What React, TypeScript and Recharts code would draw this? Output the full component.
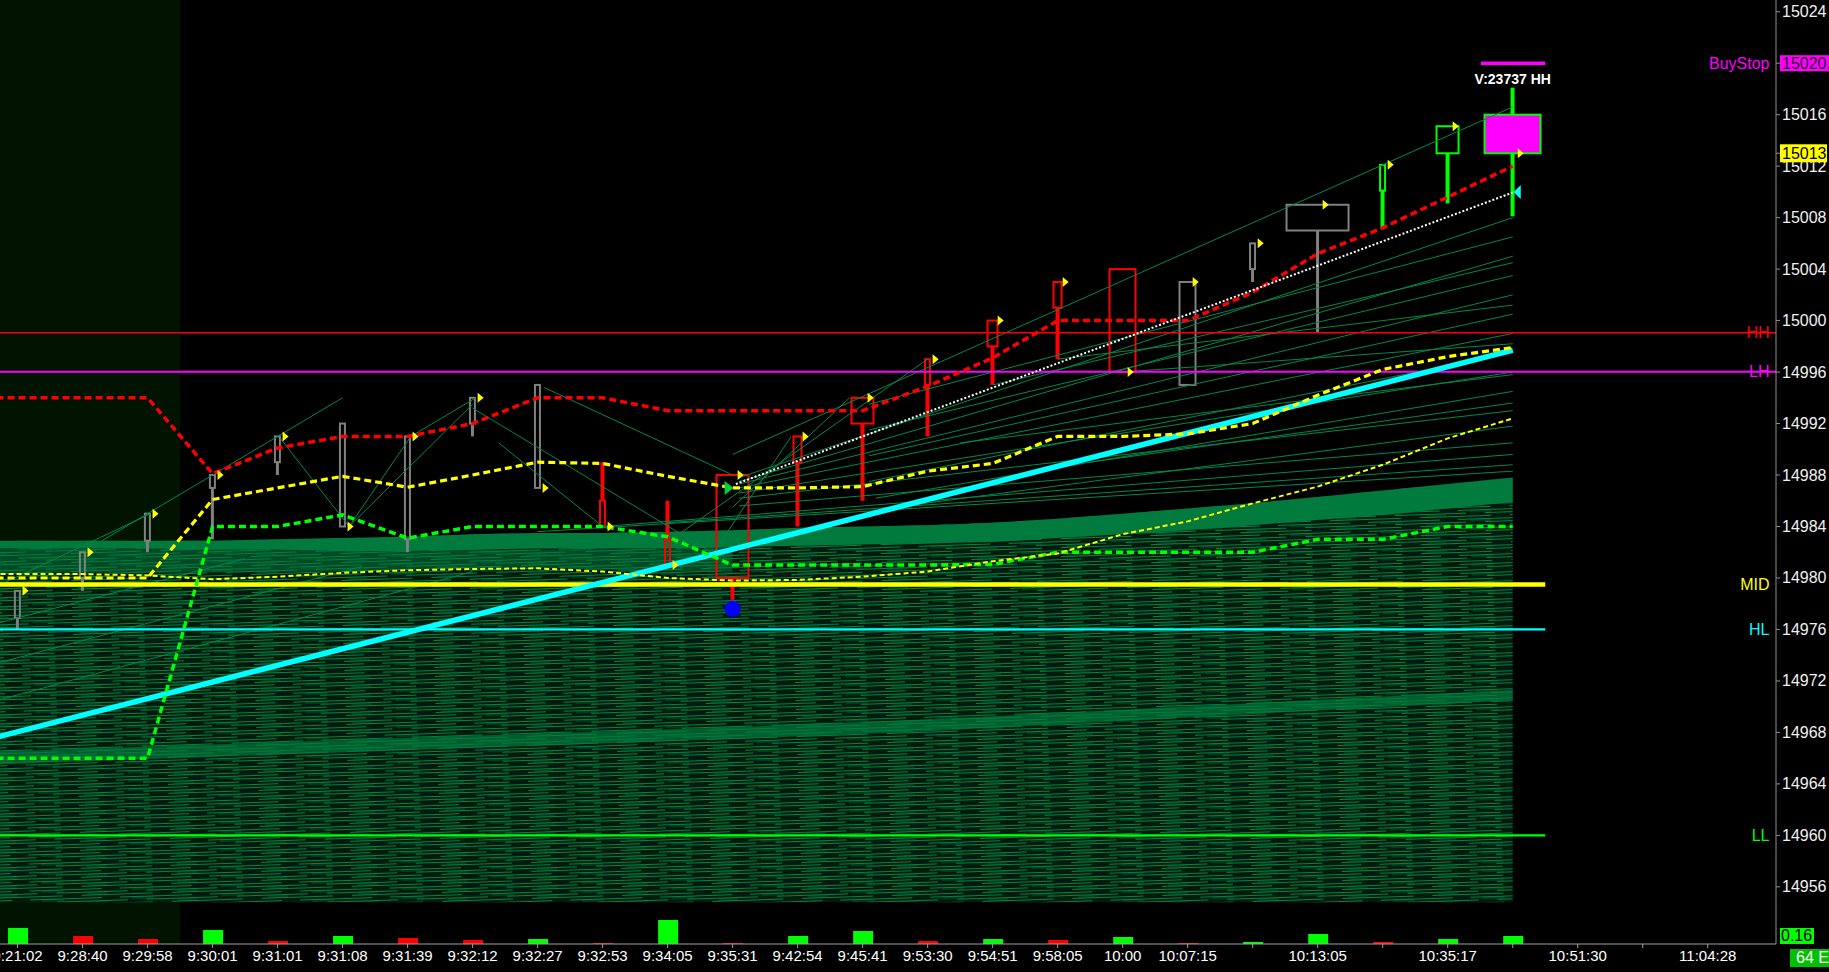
import React from 'react';
import {
  ComposedChart, XAxis, YAxis, Line, Bar, Area, Scatter,
  ReferenceLine, ReferenceArea, Cell,
} from 'recharts';

const FONT = 'Liberation Sans, Arial, sans-serif';

// ---------- categories ----------
const slotIds = [-1, 0, 1, 2, 3, 4, 5, 6, 7, 8, 9, 10, 11, 12, 13, 14, 15, 16, 17, 18, 19, 20, 21, 22, 23];
const tickSlots = [0, 1, 2, 3, 4, 5, 6, 7, 8, 9, 10, 11, 12, 13, 14, 15, 16, 17, 18, 19, 20, 21, 22, 23, 24, 25, 26];
const timeLabels = ['9:21:02', '9:28:40', '9:29:58', '9:30:01', '9:31:01', '9:31:08', '9:31:39', '9:32:12', '9:32:27',
  '9:32:53', '9:34:05', '9:35:31', '9:42:54', '9:45:41', '9:53:30', '9:54:51', '9:58:05', '10:00', '10:07:15', '',
  '10:13:05', '', '10:35:17', '', '10:51:30', '', '11:04:28'];
const priceTicks = [14956, 14960, 14964, 14968, 14972, 14976, 14980, 14984, 14988, 14992, 14996, 15000, 15004, 15008, 15012, 15016, 15020, 15024, 15013];

// ---------- candles (slots 0..23) ----------
const cOpen = [14976.9, 14980.0, 14982.9, 14987.0, 14989.0, 14992.0, 14983.0, 14992.0, 14995.0, 14986.0, 14983.0, 14980.0,
  14989.0, 14992.0, 14995.0, 14998.0, 15001.0, 15004.0, 14995.0, 15004.0, 15007.0, 15010.1, 15013.0, 15016.0];
const cHigh = [14979.0, 14982.0, 14985.0, 14988.0, 14991.0, 14992.0, 14991.0, 14994.0, 14995.0, 14989.0, 14986.0, 14988.0,
  14991.0, 14994.0, 14997.0, 15000.0, 15003.0, 15004.0, 15003.0, 15006.0, 15009.0, 15012.1, 15015.1, 15018.1];
const cLow = [14976.0, 14979.0, 14982.0, 14983.0, 14988.0, 14984.0, 14982.0, 14991.0, 14987.0, 14984.0, 14981.0, 14978.3,
  14984.0, 14986.0, 14991.0, 14995.0, 14997.0, 14996.0, 14995.0, 15003.0, 14999.1, 15007.1, 15009.1, 15008.1];
const cClose = [14979.0, 14982.0, 14985.0, 14988.0, 14991.0, 14984.0, 14991.0, 14994.0, 14987.0, 14984.0, 14981.0, 14988.0,
  14991.0, 14994.0, 14997.0, 15000.0, 15003.0, 14996.0, 15003.0, 15006.0, 15009.0, 15012.1, 15015.1, 15013.0];
const volume = [47500, 23700, 14800, 41500, 8900, 23700, 17800, 11900, 14800, 3000, 71200, 3000,
  23700, 38600, 8900, 14800, 11900, 20800, 3000, 5900, 29700, 5900, 14800, 23737];

// ---------- indicator lines (slots -1..23) ----------
const redLine = [14994.0, 14994.0, 14994.0, 14994.0, 14988.1, 14990.1, 14991.0, 14991.0, 14992.0, 14994.0, 14994.0, 14993.0,
  14993.0, 14993.0, 14993.0, 14994.9, 14997.1, 15000.0, 15000.0, 15000.0, 15002.2, 15005.2, 15007.2, 15009.6, 15012.0];
const yellowThick = [14980.0, 14980.0, 14980.0, 14980.0, 14986.1, 14987.0, 14987.9, 14987.05, 14988.0, 14989.0, 14988.9, 14987.9,
  14987.0, 14987.0, 14987.1, 14988.3, 14988.9, 14991.0, 14991.0, 14991.2, 14992.0, 14994.2, 14996.2, 14997.2, 14997.9];
const yellowThin = [14980.3, 14980.3, 14980.3, 14980.2, 14979.9, 14980.1, 14980.4, 14980.6, 14980.7, 14980.75, 14980.5, 14980.0,
  14979.8, 14979.85, 14980.1, 14980.5, 14981.3, 14981.9, 14983.4, 14984.4, 14985.8, 14987.1, 14988.8, 14990.85, 14992.4];
const greenLine = [14966.0, 14966.0, 14966.0, 14966.0, 14984.0, 14984.0, 14984.9, 14983.1, 14984.0, 14984.0, 14984.0, 14983.2,
  14981.0, 14981.0, 14981.0, 14981.0, 14981.06, 14982.0, 14982.0, 14982.0, 14982.0, 14983.0, 14983.0, 14984.0, 14984.0];
const denseTop = [14982.9, 14982.9, 14982.9, 14982.9, 14982.9, 14983.0, 14983.1, 14983.2, 14983.4, 14983.5, 14983.5, 14983.6,
  14983.7, 14983.9, 14984.0, 14984.1, 14984.3, 14984.6, 14985.0, 14985.4, 14985.8, 14986.3, 14986.8, 14987.3, 14987.8];
const bandBottom = [14982.3, 14982.3, 14982.3, 14982.3, 14982.2, 14982.2, 14982.1, 14982.1, 14982.2, 14982.3, 14982.3, 14982.3,
  14982.4, 14982.5, 14982.6, 14982.7, 14982.8, 14983.1, 14983.4, 14983.7, 14984.1, 14984.5, 14984.9, 14985.4, 14985.9];
const midDenseSlots = [-1, 2, 5, 8, 11];
const midDenseLo = [14980.4, 14980.4, 14980.5, 14980.8, 14980.4];
const midDenseHi = [14982.3, 14982.3, 14982.1, 14982.2, 14982.3];
const lowerBandSlots = [-1, 11, 14, 23];
const lowerBandLo = [14965.4, 14967.5, 14968.1, 14970.5];
const lowerBandHi = [14966.4, 14968.4, 14969.0, 14971.3];
const hatchBottom = 14954.8;

const cyanLine = [{ x: -1, v: 14966.76 }, { x: 23, v: 14997.7 }];
const whiteDotted = [{ x: 11.05, v: 14987.3 }, { x: 23, v: 15009.95 }];

// thin green fan / network lines: lists of [slot, value]
const fanLines: number[][][] = [
  [[11, 14989.6], [23, 15016.6]],
  [[11.1, 14987.8], [23, 15008.0]],
  [[11.1, 14987.5], [23, 15005.0]],
  [[11.1, 14987.3], [23, 15002.0]],
  [[11.1, 14987.0], [23, 14999.0]],
  [[11.1, 14986.6], [23, 14996.0]],
  [[11.1, 14986.2], [23, 14993.0]],
  [[11.1, 14985.6], [23, 14990.5]],
  [[13.1, 14993.5], [23, 15006.5]],
  [[13.1, 14991.5], [23, 15003.5]],
  [[13.1, 14989.5], [23, 15000.5]],
  [[13.1, 14987.5], [23, 14997.5]],
  [[13.2, 14986.2], [23, 14994.5]],
  [[13.5, 14985.5], [23, 14991.8]],
  [[9.0, 14984.0], [23, 14989.6]],
  [[10.0, 14984.3], [23, 14988.8]],
  [[8.0, 14983.6], [23, 14988.3]],
  [[15.0, 14995.0], [23, 15004.5]],
  [[16.0, 14997.0], [23, 15001.2]],
  [[17.0, 14996.0], [23, 14998.2]],
  [[14.5, 14990.5], [23, 14995.8]],
  [[16.5, 14989.0], [23, 14993.6]],
  [[1.3, 14982.9], [5.0, 14994.0]],
  [[-0.3, 14979.4], [2.05, 14985.0]],
  [[4.05, 14990.8], [5.1, 14984.0], [6.05, 14991.0], [7.05, 14994.0]],
  [[7.0, 14993.2], [10.7, 14981.9], [11.9, 14991.0]],
  [[7.4, 14990.5], [9.0, 14984.0]],
  [[11.0, 14985.5], [12.8, 14994.0]],
  [[5.1, 14984.0], [7.0, 14993.5]],
  [[10.2, 14983.5], [14.0, 14997.0]],
  [[8.1, 14994.8], [11.0, 14988.0]],
  [[-0.3, 14973.4], [5.3, 14980.9]],
  [[-0.3, 14970.5], [7.0, 14980.5]],
  [[-0.3, 14976.5], [3.5, 14981.5]],
];

// ---------- levels ----------
const levelNames = ['HH', 'LH', 'MID', 'HL', 'LL'];
const levelValues = [14999.06, 14996.03, 14979.5, 14976.0, 14960.0];
const buyStop = 15020.0;
const lastPrice = 15013.0;
const markerBlueDot = [{ x: 11, y: 14977.6 }];
const markerGreenTri = [{ x: 11, y: 14987.0 }];
const markerCyanTri = [{ x: 23, y: 15010.0 }];
const barNote = [{ x: 23, y: 15018.8, text: 'V:23737 HH' }];

// ---------- styles ----------
const levelColors = ['#ff0000', '#ff00ff', '#ffff00', '#00ffff', '#00ff00'];
const levelWidths = [1.6, 2, 4.5, 2.2, 2.2];
const levelFullWidth = [true, true, false, false, false];
const GRAY = '#808080', RED = '#ff0000', GRN = '#00ff00';
const candleColor = [GRAY, GRAY, GRAY, GRAY, GRAY, GRAY, GRAY, GRAY, GRAY, RED, RED, RED, RED, RED, RED, RED, RED, RED,
  GRAY, GRAY, GRAY, GRN, GRN, GRN];
const bodyFill = ['none', 'none', 'none', 'none', 'none', 'none', 'none', 'none', 'none', 'none', 'none', 'none', 'none',
  'none', 'none', 'none', 'none', 'none', 'none', 'none', 'none', 'none', 'none', '#ff00ff'];
const bodyWidthPx = [7, 7, 7, 7, 7, 7, 7, 7, 7, 7, 7, 34, 10, 24, 7, 12, 10, 28, 18, 7, 64, 7, 24, 58];
const volColor = [GRN, RED, RED, GRN, RED, GRN, RED, RED, GRN, RED, GRN, RED, GRN, GRN, RED, GRN, RED, GRN, RED, GRN, GRN, RED, GRN, GRN];

const X_DOMAIN: [number, number] = [-0.27, 27.05];
const P_DOMAIN: [number, number] = [14951.56, 15024.91];
const V_DOMAIN: [number, number] = [0, 2800533];
const LABEL_SLOT = 26.95;

const rows = slotIds.map((s, k) => {
  const has = s >= 0;
  const lbIdx = lowerBandSlots.indexOf(s);
  const mdIdx = midDenseSlots.indexOf(s);
  return {
    x: s,
    open: has ? cOpen[s] : null,
    high: has ? cHigh[s] : null,
    low: has ? cLow[s] : null,
    close: has ? cClose[s] : null,
    vol: has ? volume[s] : null,
    red: redLine[k],
    yThick: yellowThick[k],
    yThin: yellowThin[k],
    green: greenLine[k],
    dTop: denseTop[k],
    bBot: bandBottom[k],
    lbLo: lbIdx >= 0 ? lowerBandLo[lbIdx] : null,
    lbHi: lbIdx >= 0 ? lowerBandHi[lbIdx] : null,
    mdLo: mdIdx >= 0 ? midDenseLo[mdIdx] : null,
    mdHi: mdIdx >= 0 ? midDenseHi[mdIdx] : null,
  };
});
const candleRows = rows.filter((r) => r.high != null);
const closePoints = candleRows.map((r) => ({ x: r.x, y: r.close }));
const levelLabelPoints = levelNames.map((n, i) => ({ x: LABEL_SLOT, y: levelValues[i], text: n, color: levelColors[i] }));
const buyStopLabel = [{ x: LABEL_SLOT, y: buyStop, text: 'BuyStop', color: '#ff00ff' }];

function CandleShape(props: any) {
  const { x, y, width, height, payload } = props;
  if (!payload || payload.high == null || !isFinite(y) || !isFinite(height)) return <g />;
  const i = payload.x;
  const yHi = Math.min(y, y + height);
  const yLo = Math.max(y, y + height);
  const cx = x + width / 2;
  const k = (yLo - yHi) / (payload.high - payload.low);
  const yOf = (v: number) => yHi + (payload.high - v) * k;
  const bTop = yOf(Math.max(payload.open, payload.close));
  const bBot = yOf(Math.min(payload.open, payload.close));
  const color = candleColor[i];
  const ww = color === GRAY ? 3 : 4;
  const bw = bodyWidthPx[i];
  return (
    <g>
      {bTop - yHi > 0.5 && <line x1={cx} x2={cx} y1={yHi} y2={bTop} stroke={color} strokeWidth={ww} />}
      {yLo - bBot > 0.5 && <line x1={cx} x2={cx} y1={bBot} y2={yLo} stroke={color} strokeWidth={ww} />}
      <rect x={cx - bw / 2 + 1} y={bTop} width={bw - 2} height={Math.max(bBot - bTop, 1)} fill={bodyFill[i]}
        stroke={color} strokeWidth={2} />
    </g>
  );
}

const YellowTri = (p: any) => {
  const { cx, cy } = p;
  if (!isFinite(cx) || !isFinite(cy)) return <g />;
  return <polygon points={`${cx + 5},${cy - 5} ${cx + 11},${cy} ${cx + 5},${cy + 5}`} fill="#ffff00" />;
};
const GreenTri = (p: any) => {
  const { cx, cy } = p;
  return <polygon points={`${cx - 8},${cy - 7} ${cx + 1},${cy} ${cx - 8},${cy + 7}`} fill="#00d040" />;
};
const CyanTri = (p: any) => {
  const { cx, cy } = p;
  return <polygon points={`${cx + 8},${cy - 7} ${cx + 1},${cy} ${cx + 8},${cy + 7}`} fill="#00ffff" />;
};
const BlueDot = (p: any) => <circle cx={p.cx} cy={p.cy} r={8} fill="#0000ff" />;
const RightLabel = (p: any) => (
  <text x={p.cx} y={p.cy} textAnchor="end" dominantBaseline="central" fill={p.payload.color}
    fontSize={16} fontFamily={FONT}>{p.payload.text}</text>
);
const NoteLabel = (p: any) => (
  <text x={p.cx} y={p.cy} textAnchor="middle" dominantBaseline="central" fill="#ffffff"
    fontSize={14} fontWeight="bold" fontFamily={FONT}>{p.payload.text}</text>
);

const PriceTick = (p: any) => {
  const { x, y, payload } = p;
  const v = payload.value;
  if (v === lastPrice) {
    return (
      <g>
        <rect x={x - 2} y={y - 9} width={47} height={18} fill="#ffff00" />
        <text x={x} y={y} dominantBaseline="central" fill="#000000" fontSize={16} fontFamily={FONT}>{String(v)}</text>
      </g>
    );
  }
  if (v === buyStop) {
    return (
      <g>
        <rect x={x - 2} y={y - 8} width={60} height={16} fill="#ff00ff" />
        <text x={x} y={y} dominantBaseline="central" fill="#1a001a" fontSize={16} fontFamily={FONT}>{`${v}.00`}</text>
      </g>
    );
  }
  return (
    <text x={x} y={y} dominantBaseline="central" fill="#f0f0f0" fontSize={16} fontFamily={FONT}>{String(v)}</text>
  );
};

export default function App() {
  return (
    <div style={{ position: 'absolute', left: 0, top: 0, width: 1829, height: 972, background: '#000', overflow: 'hidden' }}>
      <ComposedChart width={1829} height={972} data={rows} margin={{ top: 0, right: 0, bottom: 0, left: 0 }}
        style={{ background: '#000' }}>
        <defs>
          <pattern id="hatch" patternUnits="userSpaceOnUse" width="90" height="9" patternTransform="rotate(-1.9)">
            <rect x="0" y="0" width="90" height="9" fill="#001a0d" />
            <rect x="0" y="0" width="72" height="1" fill="#008542" />
            <rect x="27" y="3" width="63" height="1" fill="#008542" />
            <rect x="0" y="3" width="8" height="1" fill="#008542" />
            <rect x="52" y="6" width="38" height="1" fill="#008542" />
            <rect x="0" y="6" width="33" height="1" fill="#008542" />
            <rect x="12" y="1.5" width="22" height="1" fill="#005a2d" />
            <rect x="58" y="4.5" width="20" height="1" fill="#005a2d" />
          </pattern>
        </defs>
        <XAxis xAxisId="x" dataKey="x" type="number" domain={X_DOMAIN} allowDataOverflow ticks={tickSlots} interval={0}
          tickFormatter={(v: number) => timeLabels[v] ?? ''} height={28} tickSize={4}
          tick={{ fill: '#ffffff', fontSize: 15, fontFamily: FONT }}
          axisLine={{ stroke: '#a0a0a0' }} tickLine={{ stroke: '#a0a0a0' }} />
        <XAxis xAxisId="x2" dataKey="x" type="number" domain={X_DOMAIN} allowDataOverflow hide />
        <YAxis yAxisId="p" orientation="right" domain={P_DOMAIN} allowDataOverflow ticks={priceTicks} interval={0}
          width={53} tickSize={4} tick={<PriceTick />} axisLine={{ stroke: '#909090' }} tickLine={{ stroke: '#909090' }} />
        <YAxis yAxisId="v" domain={V_DOMAIN} allowDataOverflow hide />

        <ReferenceArea xAxisId="x" yAxisId="p" x1={-0.27} x2={2.5} y1={P_DOMAIN[0]} y2={P_DOMAIN[1]}
          fill="#011301" fillOpacity={1} stroke="none" />

        <Area xAxisId="x" yAxisId="p" type="linear" dataKey={(d: any) => [hatchBottom, d.dTop]}
          fill="url(#hatch)" fillOpacity={1} stroke="none" dot={false} activeDot={false} isAnimationActive={false} />
        <Area xAxisId="x" yAxisId="p" type="linear" connectNulls
          dataKey={(d: any) => (d.mdLo == null ? null : [d.mdLo, d.mdHi])}
          fill="#007a3d" fillOpacity={0.5} stroke="none" dot={false} activeDot={false} isAnimationActive={false} />
        <Area xAxisId="x" yAxisId="p" type="linear" dataKey={(d: any) => [d.bBot, d.dTop]}
          fill="#007a3d" fillOpacity={1} stroke="none" dot={false} activeDot={false} isAnimationActive={false} />
        <Area xAxisId="x" yAxisId="p" type="linear" connectNulls
          dataKey={(d: any) => (d.lbLo == null ? null : [d.lbLo, d.lbHi])}
          fill="#007a3d" fillOpacity={0.7} stroke="none" dot={false} activeDot={false} isAnimationActive={false} />

        {fanLines.map((pts, i) => (
          <Line key={`fan${i}`} xAxisId="x" yAxisId="p" data={pts.map(([x, v]) => ({ x, v }))} dataKey="v"
            stroke="#00894a" strokeWidth={1} dot={false} activeDot={false} isAnimationActive={false} />
        ))}

        {levelValues.map((v, i) => (levelFullWidth[i]
          ? <ReferenceLine key={`lvl${i}`} xAxisId="x" yAxisId="p" y={v} stroke={levelColors[i]} strokeWidth={levelWidths[i]} />
          : <ReferenceLine key={`lvl${i}`} xAxisId="x" yAxisId="p" segment={[{ x: -0.27, y: v }, { x: 23.5, y: v }]}
              stroke={levelColors[i]} strokeWidth={levelWidths[i]} />))}
        <ReferenceLine xAxisId="x" yAxisId="p" segment={[{ x: 22.51, y: buyStop }, { x: 23.5, y: buyStop }]}
          stroke="#ff00ff" strokeWidth={3.5} />

        <Bar xAxisId="x" yAxisId="p" dataKey={(d: any) => (d.high == null ? null : [d.low, d.high])} barSize={20}
          shape={<CandleShape />} isAnimationActive={false} />

        <Line xAxisId="x" yAxisId="p" data={cyanLine} dataKey="v" stroke="#00ffff" strokeWidth={5.5}
          dot={false} activeDot={false} isAnimationActive={false} />
        <Line xAxisId="x" yAxisId="p" dataKey="green" stroke="#00ff00" strokeWidth={3.5} strokeDasharray="7 4"
          dot={false} activeDot={false} isAnimationActive={false} />
        <Line xAxisId="x" yAxisId="p" dataKey="yThin" stroke="#ffff00" strokeWidth={2} strokeDasharray="5 3"
          dot={false} activeDot={false} isAnimationActive={false} />
        <Line xAxisId="x" yAxisId="p" dataKey="yThick" stroke="#ffff00" strokeWidth={3.2} strokeDasharray="7 4"
          dot={false} activeDot={false} isAnimationActive={false} />
        <Line xAxisId="x" yAxisId="p" dataKey="red" stroke="#ff0000" strokeWidth={3.5} strokeDasharray="7 4"
          dot={false} activeDot={false} isAnimationActive={false} />
        <Line xAxisId="x" yAxisId="p" data={whiteDotted} dataKey="v" stroke="#ffffff" strokeWidth={2} strokeDasharray="2 2"
          dot={false} activeDot={false} isAnimationActive={false} />

        <Scatter xAxisId="x" yAxisId="p" data={closePoints} dataKey="y" shape={<YellowTri />} isAnimationActive={false} />
        <Scatter xAxisId="x" yAxisId="p" data={markerGreenTri} dataKey="y" shape={<GreenTri />} isAnimationActive={false} />
        <Scatter xAxisId="x" yAxisId="p" data={markerCyanTri} dataKey="y" shape={<CyanTri />} isAnimationActive={false} />
        <Scatter xAxisId="x" yAxisId="p" data={markerBlueDot} dataKey="y" shape={<BlueDot />} isAnimationActive={false} />
        <Scatter xAxisId="x" yAxisId="p" data={levelLabelPoints} dataKey="y" shape={<RightLabel />} isAnimationActive={false} />
        <Scatter xAxisId="x" yAxisId="p" data={buyStopLabel} dataKey="y" shape={<RightLabel />} isAnimationActive={false} />
        <Scatter xAxisId="x" yAxisId="p" data={barNote} dataKey="y" shape={<NoteLabel />} isAnimationActive={false} />

        <Bar xAxisId="x2" yAxisId="v" dataKey="vol" barSize={20} isAnimationActive={false}>
          {rows.map((r, i) => (
            <Cell key={`vc${i}`} fill={r.vol == null ? 'transparent' : volColor[r.x]} />
          ))}
        </Bar>
      </ComposedChart>
      <div style={{ position: 'absolute', left: 1780, top: 928, width: 33, height: 16, background: '#00ff00', color: '#000',
        fontFamily: FONT, fontSize: 16, lineHeight: '16px', paddingLeft: 1 }}>0.16</div>
      <div style={{ position: 'absolute', left: 1790, top: 949, width: 39, height: 18, background: '#00c000', color: '#fff',
        fontFamily: FONT, fontSize: 16, lineHeight: '18px', paddingLeft: 6, whiteSpace: 'nowrap' }}>64 E</div>
    </div>
  );
}
